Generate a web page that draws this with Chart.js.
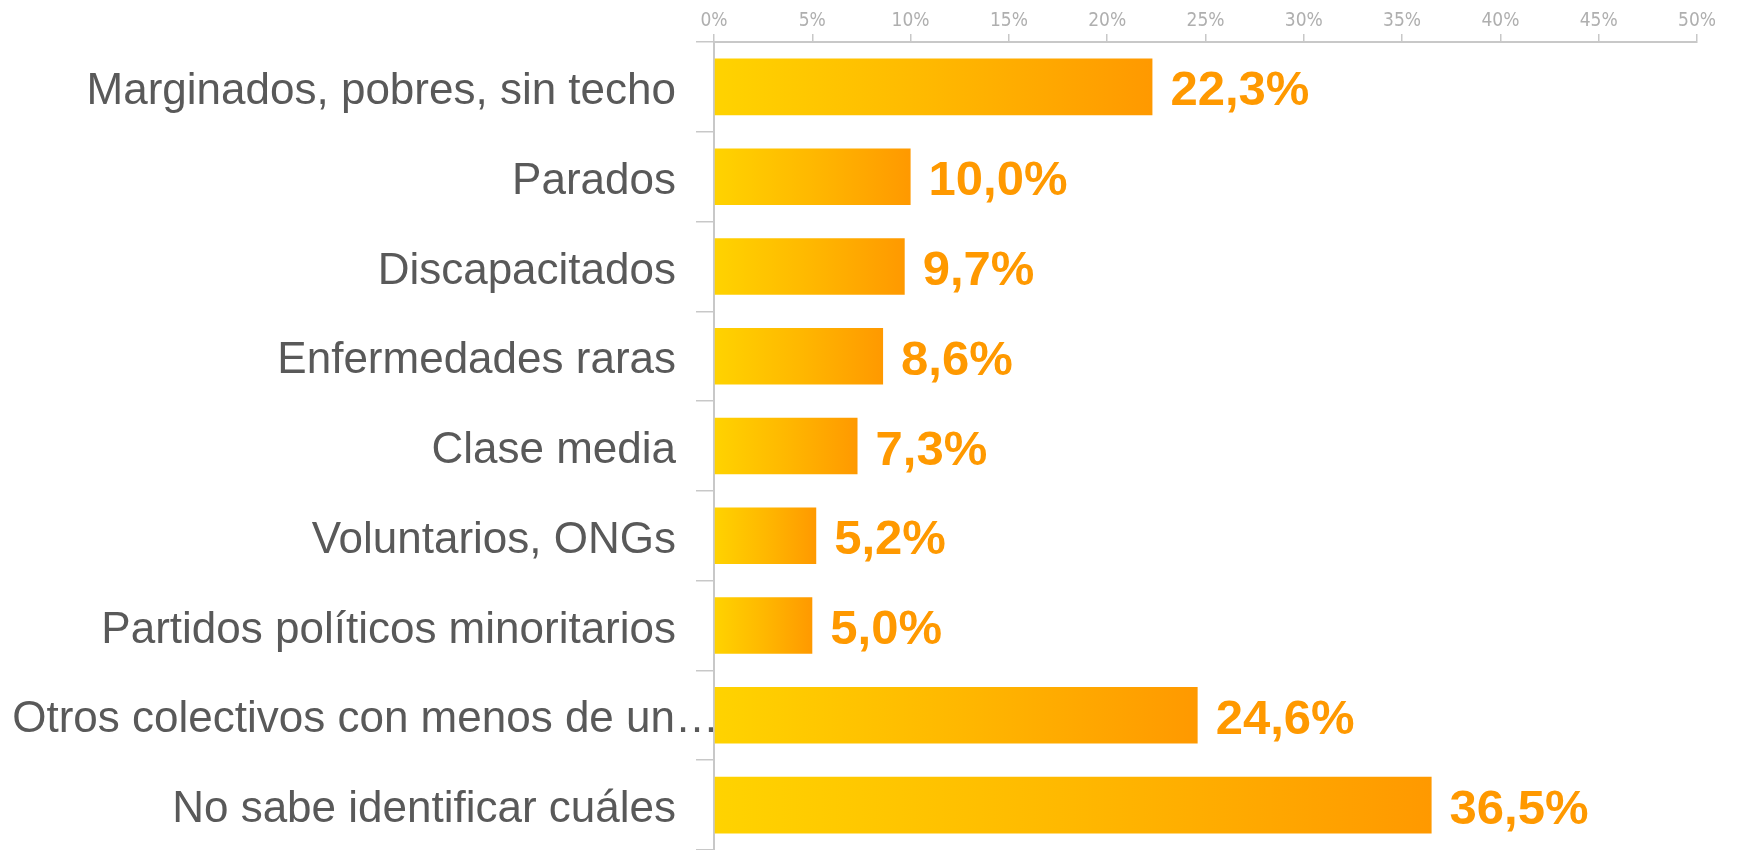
<!DOCTYPE html>
<html lang="es">
<head>
    <title>Colectivos</title>
    <script src="https://cdn.jsdelivr.net/npm/chart.js"></script>
    <style>
        html, body { margin: 0; padding: 0; background: #fff; }
        .chart-container { width: 1740px; height: 850px; position: relative; }
        canvas { display: block; }
    </style>
</head>
<body>
    <div class="chart-container">
        <canvas id="myChart"></canvas>
    </div>

    <script>
        const categories = [
            "Marginados, pobres, sin techo",
            "Parados",
            "Discapacitados",
            "Enfermedades raras",
            "Clase media",
            "Voluntarios, ONGs",
            "Partidos políticos minoritarios",
            "Otros colectivos con menos de un…",
            "No sabe identificar cuáles"
        ];
        const values = [22.3, 10.0, 9.7, 8.6, 7.3, 5.2, 5.0, 24.6, 36.5];
        const tickLabels = ["0%", "5%", "10%", "15%", "20%", "25%", "30%", "35%", "40%", "45%", "50%"];

        // gradient per bar, yellow at the base to orange at the end
        function barGradient(context) {
            const chart = context.chart;
            const x = chart.scales.x;
            if (!x || context.dataIndex === undefined) return "#FFB400";
            const x0 = x.getPixelForValue(0);
            const x1 = x.getPixelForValue(values[context.dataIndex]);
            if (!isFinite(x0) || !isFinite(x1) || x1 - x0 < 1) return "#FFD200";
            const g = chart.ctx.createLinearGradient(x0, 0, x1, 0);
            g.addColorStop(0, "#FFD300");
            g.addColorStop(0.5, "#FFB800");
            g.addColorStop(1, "#FF9900");
            return g;
        }

        const valueLabels = {
            id: "valueLabels",
            afterDatasetsDraw(chart) {
                const ctx = chart.ctx;
                const meta = chart.getDatasetMeta(0);
                ctx.save();
                ctx.font = "bold 49px 'Liberation Sans', Arial, sans-serif";
                ctx.fillStyle = "#FF9900";
                ctx.textAlign = "left";
                ctx.textBaseline = "middle";
                meta.data.forEach((bar, i) => {
                    const txt = values[i].toFixed(1).replace(".", ",") + "%";
                    ctx.fillText(txt, bar.x + 18, bar.y + 5);
                });
                ctx.restore();
            }
        };

        const ctx = document.getElementById("myChart").getContext("2d");
        new Chart(ctx, {
            type: "bar",
            data: {
                labels: categories,
                datasets: [{
                    data: values,
                    backgroundColor: barGradient,
                    borderWidth: 0,
                    barPercentage: 0.63,
                    categoryPercentage: 1
                }]
            },
            options: {
                indexAxis: "y",
                responsive: true,
                maintainAspectRatio: false,
                animation: false,
                layout: {
                    padding: { top: 0, right: 43, bottom: 0, left: 0 }
                },
                plugins: {
                    legend: { display: false },
                    tooltip: { enabled: false }
                },
                scales: {
                    x: {
                        position: "top",
                        min: 0,
                        max: 50,
                        ticks: {
                            stepSize: 5,
                            color: "#AFAFAF",
                            padding: 2,
                            font: { family: "'Liberation Sans Narrow', 'DejaVu Sans Condensed', sans-serif", size: 19 },
                            callback: (v, i) => tickLabels[i]
                        },
                        grid: {
                            drawOnChartArea: false,
                            tickLength: 8,
                            color: "#C8C8C8",
                            lineWidth: 1.5
                        },
                        border: { color: "#C8C8C8", width: 2 },
                        afterFit(scale) { scale.height = 42; }
                    },
                    y: {
                        ticks: {
                            color: "#595959",
                            padding: 20,
                            font: { family: "'Liberation Sans', Arial, sans-serif", size: 44 }
                        },
                        grid: {
                            drawOnChartArea: false,
                            offset: true,
                            tickLength: 18,
                            color: "#C8C8C8",
                            lineWidth: 1.5
                        },
                        border: { color: "#C8C8C8", width: 2 },
                        afterFit(scale) {
                            scale.width = 714;
                            scale.paddingTop = 0;
                            scale.paddingBottom = 0;
                            // labels sit a little low, and the long truncated one runs into the axis
                            if (!scale._shiftPatched) {
                                scale._shiftPatched = true;
                                const orig = scale._computeLabelItems.bind(scale);
                                scale._computeLabelItems = function (area) {
                                    const items = orig(area);
                                    items.forEach(it => { it.options.translation[1] += 5; });
                                    if (items[7]) items[7].options.translation[0] += 43;
                                    return items;
                                };
                            }
                        }
                    }
                }
            },
            plugins: [valueLabels]
        });
    </script>
</body>
</html>
